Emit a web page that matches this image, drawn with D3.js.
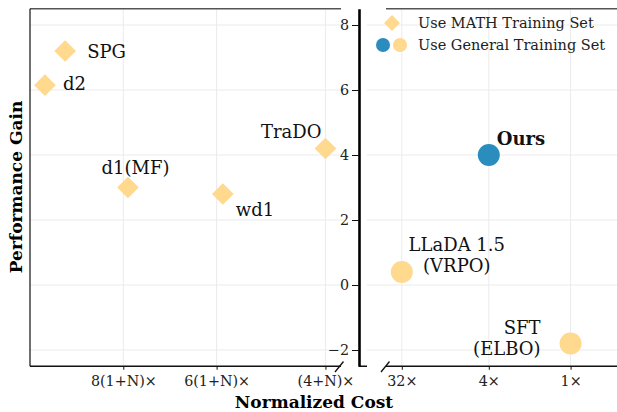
<!DOCTYPE html>
<html>
<head>
<meta charset="utf-8">
<script src="https://cdn.jsdelivr.net/npm/d3@7"></script>
<style>
  body { margin: 0; background: #fff; }
  text { font-family: "DejaVu Serif", serif; }
</style>
</head>
<body>
<div id="holder"></div>
<script>
const w = 617;
const h = 412;

// DATA
// left panel (methods using MATH training set), x is position on the cost axis
const leftNames = ["SPG", "d2", "d1(MF)", "wd1", "TraDO"];
const leftX = [1.13, 0.48, 3.15, 6.2, 9.5];
const leftGain = [7.2, 6.15, 3.0, 2.8, 4.2];
const leftTicks = [3, 6, 9.5];
const leftTickLabels = ["8(1+N)×", "6(1+N)×", "(4+N)×"];

// right panel (general training set)
const rightNames = ["Ours", "LLaDA 1.5\n(VRPO)", "SFT\n(ELBO)"];
const rightX = [1, 0, 1.94];
const rightGain = [4.0, 0.4, -1.8];
const rightIsOurs = [true, false, false];
const rightTicks = [0, 1, 1.94];
const rightTickLabels = ["32×", "4×", "1×"];

const yTicks = [-2, 0, 2, 4, 6, 8];
const legendLabels = ["Use MATH Training Set", "Use General Training Set"];

const yellow = "#fed98e";
const blue = "#2b8cbe";
const gridColor = "#ebebeb";

// CREATE SVG
const svg = d3.select("#holder")
    .append("svg")
    .attr("width", w)
    .attr("height", h)

// SCALES
const yScale = d3.scaleLinear().domain([-2.5, 8.5]).range([366.25, 8.75]);
const xLeft = d3.scaleLinear().domain([0, 10]).range([30, 341]);
const xRight = d3.scaleLinear().domain([-0.4, 2.5]).range([367, 619.3]);

const yTop = yScale(8.5), yBottom = yScale(-2.5);

// GRID
const grid = svg.append("g");
yTicks.forEach(t => {
    grid.append("line").attr("x1", 30).attr("x2", 345)
        .attr("y1", yScale(t)).attr("y2", yScale(t));
    grid.append("line").attr("x1", 367).attr("x2", w)
        .attr("y1", yScale(t)).attr("y2", yScale(t));
});
leftTicks.forEach(t => grid.append("line").attr("x1", xLeft(t)).attr("x2", xLeft(t)).attr("y1", yTop).attr("y2", yBottom));
rightTicks.forEach(t => grid.append("line").attr("x1", xRight(t)).attr("x2", xRight(t)).attr("y1", yTop).attr("y2", yBottom));
grid.selectAll("line").attr("stroke", gridColor).attr("stroke-width", 1);

// SPINES
svg.append("line").attr("x1", 30).attr("x2", 341).attr("y1", yTop).attr("y2", yTop).attr("stroke", "#555").attr("stroke-width", 1.4);
svg.append("line").attr("x1", 386).attr("x2", w).attr("y1", yTop).attr("y2", yTop).attr("stroke", "#555").attr("stroke-width", 1.4);
svg.append("line").attr("x1", 30).attr("x2", 30).attr("y1", yTop).attr("y2", yBottom).attr("stroke", "#111").attr("stroke-width", 1.2);

// X AXES
const xAxisL = d3.axisBottom(xLeft).tickValues(leftTicks)
    .tickFormat((d, i) => leftTickLabels[i]).tickSize(3.5).tickSizeOuter(0);
const gxl = svg.append("g").attr("transform", "translate(0," + yBottom + ")").call(xAxisL);
gxl.select(".domain").attr("d", "M30,0H341");

const xAxisR = d3.axisBottom(xRight).tickValues(rightTicks)
    .tickFormat((d, i) => rightTickLabels[i]).tickSize(3.5).tickSizeOuter(0);
const gxr = svg.append("g").attr("transform", "translate(0," + yBottom + ")").call(xAxisR);
gxr.select(".domain").attr("d", "M359,0H367M386,0H" + w);

[gxl, gxr].forEach(g => {
    g.select(".domain").attr("stroke", "#111").attr("stroke-width", 1.3);
    g.selectAll(".tick line").attr("stroke", "#111");
    g.selectAll(".tick text").attr("font-family", "DejaVu Serif").attr("font-size", 14.3)
        .attr("fill", "#222").attr("dy", "0.9em");
});

// break marks
svg.append("path").attr("d", "M335,372L343.5,361.5M381,372L389.5,361.5")
    .attr("stroke", "#111").attr("stroke-width", 1.3).attr("fill", "none");

// Y AXIS (between the panels)
const yAxis = d3.axisLeft(yScale).tickValues(yTicks)
    .tickFormat(d => d < 0 ? "−" + Math.abs(d) : d).tickSize(7).tickSizeOuter(0);
const gy = svg.append("g").attr("transform", "translate(359,0)").call(yAxis);
gy.select(".domain").attr("stroke", "#000").attr("stroke-width", 2.6);
gy.selectAll(".tick line").attr("stroke", "#111");
gy.selectAll(".tick text").attr("font-family", "DejaVu Serif").attr("font-size", 14.3).attr("fill", "#222").attr("x", -10);

// MARKERS
const diamond = d3.symbol().type(d3.symbolDiamond2).size(300);

svg.append("g").selectAll("path")
    .data(leftNames)
    .enter()
    .append("path")
    .attr("d", diamond)
    .attr("transform", (d, i) => "translate(" + xLeft(leftX[i]) + "," + yScale(leftGain[i]) + ")")
    .attr("fill", yellow)

svg.append("g").selectAll("circle")
    .data(rightNames)
    .enter()
    .append("circle")
    .attr("cx", (d, i) => xRight(rightX[i]))
    .attr("cy", (d, i) => yScale(rightGain[i]))
    .attr("r", 11)
    .attr("fill", (d, i) => rightIsOurs[i] ? blue : yellow)

// LABELS (offsets in px from the marker)
const leftOffsets = [[22, 6.5, "start"], [18, 5, "start"], [7.5, -14, "middle"], [13, 22, "start"], [-4, -11, "end"]];
leftNames.forEach((name, i) => {
    const o = leftOffsets[i];
    svg.append("text")
        .attr("x", xLeft(leftX[i]) + o[0])
        .attr("y", yScale(leftGain[i]) + o[1])
        .attr("text-anchor", o[2])
        .attr("font-size", 18)
        .attr("fill", "#111")
        .text(name);
});

const rightOffsets = [[8, -10, "start"], [55, -21, "middle"], [-30, -10, "end"]];
rightNames.forEach((name, i) => {
    const o = rightOffsets[i];
    const t = svg.append("text")
        .attr("x", xRight(rightX[i]) + o[0])
        .attr("y", yScale(rightGain[i]) + o[1])
        .attr("text-anchor", o[2])
        .attr("font-size", 18)
        .attr("font-weight", rightIsOurs[i] ? "bold" : "normal")
        .attr("fill", "#111");
    name.split("\n").forEach((line, k) => {
        t.append("tspan").attr("x", xRight(rightX[i]) + o[0]).attr("dy", k ? 21 : 0).text(line);
    });
});

// LEGEND
const leg = svg.append("g");
leg.append("path").attr("d", d3.symbol().type(d3.symbolDiamond2).size(160))
    .attr("transform", "translate(392,23)").attr("fill", yellow);
leg.append("circle").attr("cx", 383).attr("cy", 45).attr("r", 7).attr("fill", blue);
leg.append("circle").attr("cx", 400).attr("cy", 45).attr("r", 7).attr("fill", yellow);
legendLabels.forEach((l, i) => {
    leg.append("text").attr("x", 418).attr("y", 28 + i * 21.5)
        .attr("font-size", 14.5).attr("fill", "#222").text(l);
});

// AXIS TITLES
svg.append("text")
    .attr("x", 314).attr("y", 408)
    .attr("text-anchor", "middle")
    .attr("font-size", 17).attr("font-weight", "bold")
    .text("Normalized Cost");

svg.append("text")
    .attr("transform", "translate(22,187) rotate(-90)")
    .attr("text-anchor", "middle")
    .attr("font-size", 17).attr("font-weight", "bold")
    .text("Performance Gain");
</script>
</body>
</html>
